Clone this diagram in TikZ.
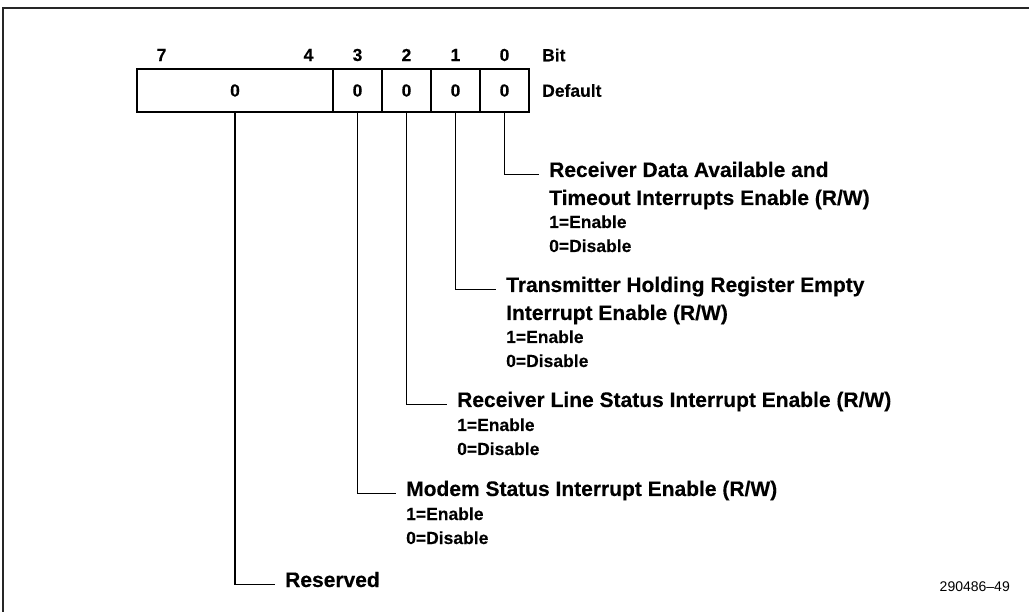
\documentclass[tikz,border=0pt]{standalone}
\usepackage{fontspec}
\setmainfont[BoldFeatures={FakeBold=0.3}]{Liberation Sans}
\newcommand\titlefnt{\fontsize{21}{24}\selectfont\bfseries}
\newcommand\subfnt{\fontsize{17.5}{20}\selectfont\bfseries}
\newcommand\bitfnt{\fontsize{17.5}{20}\selectfont\bfseries}
\newcommand\footfnt{\fontsize{14}{16}\selectfont}
\tikzset{
  cell/.style={draw, line width=1.8pt, minimum height=43pt, inner sep=0pt, font=\bitfnt},
  bitlbl/.style={inner sep=0pt, font=\bitfnt},
  ttl/.style={anchor=base west, inner sep=0pt, font=\titlefnt},
  sublbl/.style={anchor=base west, inner sep=0pt, font=\subfnt},
  leader/.style={line width=1.5pt},
}
\begin{document}
\begin{tikzpicture}[x=1pt,y=-1pt]
\useasboundingbox (0,0) rectangle (1029,612);
% frame
\draw[line width=1.5pt, black!85] (3,612) -- (3,8) -- (1029,8);
% register cells
\node[cell, minimum width=196pt] (c74) at (235,90.5) {0};
\node[cell, minimum width=49pt] (c3) at (357.5,90.5) {0};
\node[cell, minimum width=49pt] (c2) at (406.5,90.5) {0};
\node[cell, minimum width=49pt] (c1) at (455.5,90.5) {0};
\node[cell, minimum width=49pt] (c0) at (504.5,90.5) {0};
% bit numbers
\node[bitlbl] (b7) at (161.5,55) {7};
\node[bitlbl] (b4) at (308.5,55) {4};
\node[bitlbl] (b3) at (357.5,55) {3};
\node[bitlbl] (b2) at (406.5,55) {2};
\node[bitlbl] (b1) at (455.5,55) {1};
\node[bitlbl] (b0) at (504.5,55) {0};
\node[bitlbl, anchor=west] (bitl) at (542,55) {Bit};
\node[bitlbl, anchor=west] (defl) at (542,90.5) {Default};
% bit 0
\node[ttl] (t0a) at (549,177) {Receiver Data Available and};
\node[ttl] (t0b) at (549,205) {Timeout Interrupts Enable (R/W)};
\node[sublbl] (t0c) at (549,228) {1=Enable};
\node[sublbl] (t0d) at (549,252) {0=Disable};
% bit 1
\node[ttl] (t1a) at (506,292) {Transmitter Holding Register Empty};
\node[ttl] (t1b) at (506,320) {Interrupt Enable (R/W)};
\node[sublbl] (t1c) at (506,343) {1=Enable};
\node[sublbl] (t1d) at (506,367) {0=Disable};
% bit 2
\node[ttl] (t2a) at (457,407) {Receiver Line Status Interrupt Enable (R/W)};
\node[sublbl] (t2c) at (457,431) {1=Enable};
\node[sublbl] (t2d) at (457,455) {0=Disable};
% bit 3
\node[ttl] (t3a) at (406,496) {Modem Status Interrupt Enable (R/W)};
\node[sublbl] (t3c) at (406,520) {1=Enable};
\node[sublbl] (t3d) at (406,544) {0=Disable};
% reserved
\node[ttl] (tr) at (285,587) {Reserved};
% leaders
\draw[leader] (c0.south) |- ([xshift=-10pt]t0a.mid west);
\draw[leader] (c1.south) |- ([xshift=-10pt]t1a.mid west);
\draw[leader] (c2.south) |- ([xshift=-10pt]t2a.mid west);
\draw[leader] (c3.south) |- ([xshift=-10pt]t3a.mid west);
\draw[leader] (c74.south) |- ([xshift=-10pt]tr.mid west);
% footer
\node[anchor=base east, inner sep=0pt, font=\footfnt] (foot) at (1010,591) {290486--49};
\end{tikzpicture}
\end{document}
